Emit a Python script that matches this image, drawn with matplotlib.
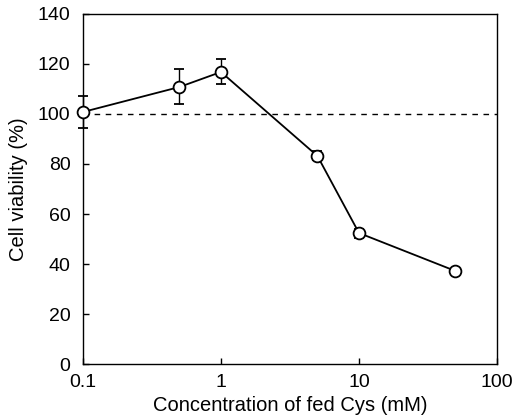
import matplotlib
matplotlib.use("Agg")
import matplotlib.pyplot as plt

plt.rcParams['font.family'] = ['Liberation Sans', 'DejaVu Sans']

# fed Cys concentration (mM) and cell viability (%)
conc = [0.1, 0.5, 1, 5, 10, 50]
viability = [100.8, 110.8, 116.8, 83.2, 52.4, 37.2]
err = [6.5, 7.0, 5.0, 1.8, 1.8, 1.0]

fig = plt.figure(figsize=(5.17, 4.2), dpi=100)
ax = fig.add_axes([0.1605, 0.1333, 0.8008, 0.8334])

ax.axhline(100, color='black', linestyle=(0, (4, 4)), linewidth=1.0, zorder=1)
ax.errorbar(conc, viability, yerr=err, color='black', linewidth=1.3,
            marker='o', markersize=8.5, markerfacecolor='white',
            markeredgecolor='black', markeredgewidth=1.3,
            capsize=3.5, elinewidth=1.0, capthick=1.0, zorder=3, clip_on=False)

ax.set_xscale('log')
ax.set_xlim(0.1, 100)
ax.set_ylim(0, 140)
ax.set_xticks([0.1, 1, 10, 100])
ax.set_xticklabels(['0.1', '1', '10', '100'])
ax.minorticks_off()
ax.set_yticks(range(0, 141, 20))

ax.tick_params(direction='in', length=4, width=1, labelsize=14)
ax.tick_params(axis='y', pad=9)
ax.tick_params(axis='x', pad=7)
for s in ax.spines.values():
    s.set_linewidth(1.0)

ax.set_xlabel('Concentration of fed Cys (mM)', fontsize=14.5, labelpad=4)
ax.set_ylabel('Cell viability (%)', fontsize=14.5, labelpad=7)

fig.savefig('out.png', dpi=100)
